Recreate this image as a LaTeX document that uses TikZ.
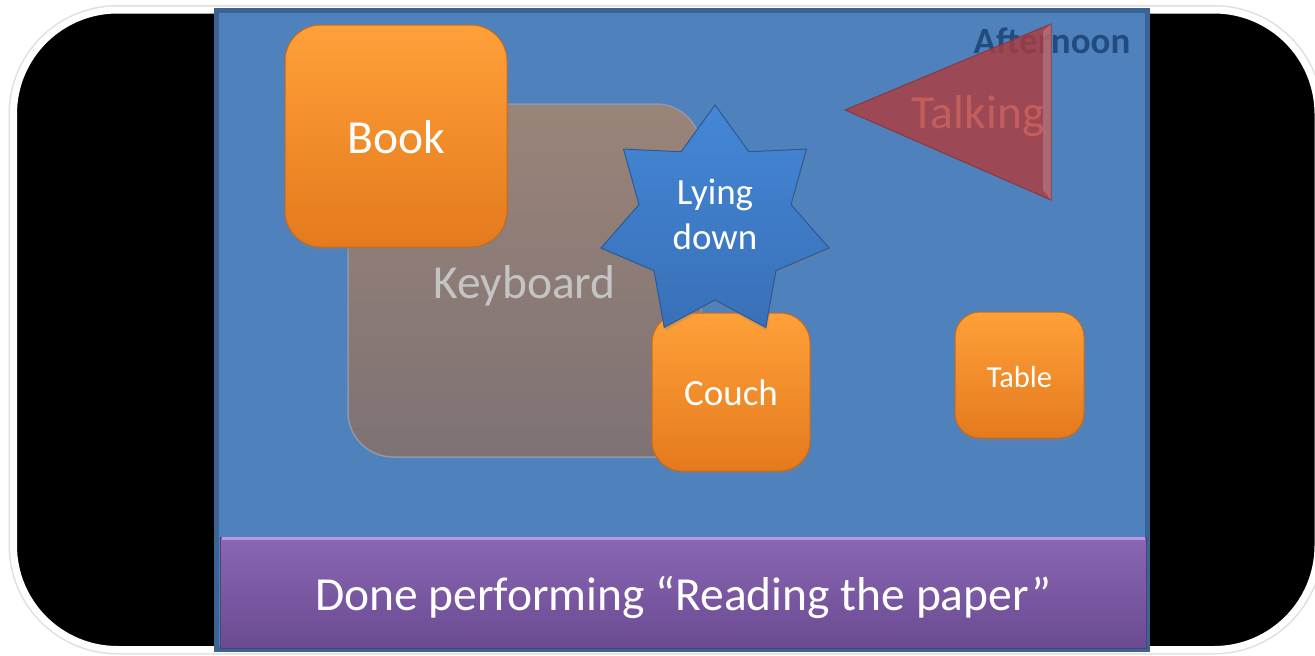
\documentclass[tikz,border=0pt]{standalone}
\usepackage{fontspec}
\setmainfont{Carlito}
\usetikzlibrary{shapes.geometric,shadows}

\definecolor{panelblue}{HTML}{4F81BD}
\definecolor{paneledge}{HTML}{3B6495}
\definecolor{nightblue}{HTML}{224B80}
\definecolor{orangetop}{HTML}{FFA038}
\definecolor{orangebot}{HTML}{E47A1E}
\definecolor{orangeedge}{HTML}{C96B17}
\definecolor{keytop}{HTML}{9A8479}
\definecolor{keybot}{HTML}{7E7274}
\definecolor{keyedge}{HTML}{8F98A6}
\definecolor{keytext}{HTML}{C4C4C4}
\definecolor{startop}{HTML}{4487D6}
\definecolor{starbot}{HTML}{3970B8}
\definecolor{staredge}{HTML}{2C5B94}
\definecolor{trifill}{HTML}{B03A3C}
\definecolor{triedge}{HTML}{8A3840}
\definecolor{tritext}{HTML}{C45E5C}
\definecolor{bartop}{HTML}{8A66B4}
\definecolor{barbot}{HTML}{6A4B91}
\definecolor{barlight}{HTML}{B898E6}

\tikzset{
  bigtext/.style={font=\fontsize{47.5}{57}\selectfont, text height=38pt, text depth=3pt},
  midtext/.style={font=\fontsize{37}{45}\selectfont, text height=30pt, text depth=2.4pt},
  smalltext/.style={font=\fontsize{30.5}{37}\selectfont, text height=27pt, text depth=1.4pt},
  orangebox/.style={rectangle, inner sep=0pt, top color=orangetop, bottom color=orangebot,
    draw=orangeedge, line width=1pt, text=white,
    drop shadow={shadow xshift=1pt, shadow yshift=-3pt, opacity=0.35}},
  keybox/.style={rectangle, inner sep=0pt, top color=keytop, bottom color=keybot,
    draw=keyedge, line width=1.5pt, text=keytext, rounded corners=45pt},
  starbox/.style={star, star points=7, star point ratio=1.5, inner sep=0pt,
    top color=startop, bottom color=starbot, draw=staredge, line width=1pt,
    drop shadow={shadow xshift=1pt, shadow yshift=-3pt, opacity=0.3}},
}

\begin{document}
\begin{tikzpicture}[x=1pt,y=-1pt]
\useasboundingbox (0,0) rectangle (1315,656);
\fill[white] (0,0) rectangle (1315,656);

% rounded black frame with white rim
\draw[gray!25, line width=10pt, rounded corners=104pt] (13.5,10) rectangle (1318,649.5);
\draw[fill=black, draw=white, line width=7pt, rounded corners=104pt] (13.5,10) rectangle (1318,649.5);

% stage panel
\node[rectangle, fill=panelblue, draw=paneledge, line width=5pt, inner sep=0pt,
      minimum width=931pt, minimum height=639pt] (stage) at (682,330) {};

\node[anchor=base east, text=nightblue, font=\fontsize{37}{44}\selectfont\bfseries]
  (timeofday) at (1134,53) {Afternoon};

% objects on the stage
\node[keybox, bigtext, minimum width=353pt, minimum height=353pt] (keyboard) at (524.5,280.5) {Keyboard};
\node[orangebox, bigtext, rounded corners=36pt, minimum width=222pt, minimum height=222pt] (book) at (396,136) {Book};
\node[orangebox, midtext, rounded corners=30pt, minimum width=158pt, minimum height=158pt] (couch) at (731,392) {Couch};
\node[starbox, minimum size=234pt] (lying) at (715,222) {};
\node[font=\fontsize{37}{45}\selectfont, text=white, align=center, inner sep=0pt] (lyingtext) at (715,214) {Lying\\down};
\node[orangebox, smalltext, rounded corners=25pt,
      minimum width=129pt, minimum height=126pt] (table) at (1019.5,375) {Table};

% talking triangle
\fill[trifill, fill opacity=0.8] (845,110) -- (1051,24) -- (1051,200) -- cycle;
\draw[triedge, line width=1pt] (845,110) -- (1051,24) -- (1051,200) -- cycle;
\fill[white, opacity=0.18] (1043,31) -- (1051,24) -- (1051,200) -- (1043,190) -- cycle;
\node[bigtext, text=tritext] (talking) at (978,111) {Talking};

% status bar
\node[rectangle, top color=bartop, bottom color=barbot, draw=barbot!80!black, line width=1pt,
      inner sep=0pt, minimum width=926pt, minimum height=111pt, text=white, bigtext]
  (status) at (683,592.5) {Done performing “Reading the paper”};
\draw[barlight, line width=3pt] ([xshift=2pt,yshift=-2pt]status.north west) -- ([xshift=-2pt,yshift=-2pt]status.north east);
\end{tikzpicture}
\end{document}
